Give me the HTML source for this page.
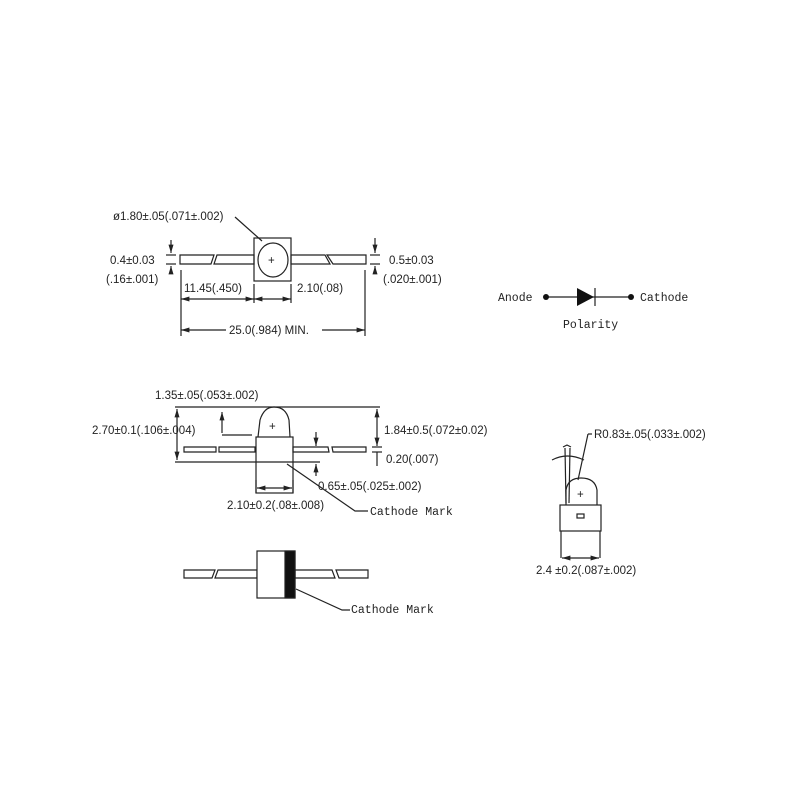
<!DOCTYPE html>
<html><head><meta charset="utf-8"><style>
html,body{margin:0;padding:0;background:#fff;}
svg{display:block}
text{font-family:"Liberation Sans",sans-serif;font-size:11.5px;fill:#222}
.m{font-family:"Liberation Mono",monospace;font-size:11.5px}
</style></head><body>
<svg width="800" height="800" viewBox="0 0 800 800" xmlns="http://www.w3.org/2000/svg">
<defs><marker id="a" viewBox="0 0 10 10" refX="10" refY="5" markerWidth="7" markerHeight="7" orient="auto-start-reverse"><path d="M0,2 L10,5 L0,8 z" fill="#222"/></marker></defs>
<g stroke="#222" stroke-width="1.2" fill="none">
<!-- TOP VIEW -->
<rect x="254" y="238" width="37" height="43" fill="#fff"/>
<ellipse cx="273" cy="260" rx="15" ry="17"/>
<path d="M180,255 L214,255 L211,264 L180,264 Z"/>
<path d="M217,255 L254,255 L254,264 L214,264 Z"/>
<path d="M291,255 L325,255 L330,264 L291,264 Z"/>
<path d="M327,255 L366,255 L366,264 L333,264 Z"/>
<line x1="235" y1="217" x2="262" y2="241"/>
<line x1="171" y1="240" x2="171" y2="253" marker-end="url(#a)"/>
<line x1="171" y1="274" x2="171" y2="266" marker-end="url(#a)"/>
<line x1="166" y1="255" x2="176" y2="255"/><line x1="166" y1="264" x2="176" y2="264"/>
<line x1="375" y1="238" x2="375" y2="253" marker-end="url(#a)"/>
<line x1="375" y1="274" x2="375" y2="266" marker-end="url(#a)"/>
<line x1="370" y1="255" x2="380" y2="255"/><line x1="370" y1="264" x2="380" y2="264"/>
<line x1="181" y1="270" x2="181" y2="336"/>
<line x1="365" y1="270" x2="365" y2="336"/>
<line x1="254" y1="284" x2="254" y2="303"/>
<line x1="291" y1="284" x2="291" y2="303"/>
<line x1="181" y1="299" x2="254" y2="299" marker-start="url(#a)" marker-end="url(#a)"/>
<line x1="254" y1="299" x2="291" y2="299" marker-start="url(#a)" marker-end="url(#a)"/>
<line x1="181" y1="330" x2="226" y2="330" marker-start="url(#a)"/>
<line x1="322" y1="330" x2="365" y2="330" marker-end="url(#a)"/>
<!-- DIODE SYMBOL -->
<line x1="546" y1="297" x2="631" y2="297"/>
<line x1="595" y1="288" x2="595" y2="306"/>
<!-- SIDE VIEW -->
<path d="M258,437 L260,420 Q264,407 274,407 Q286,407 289,420 L290,437" fill="#fff"/>
<rect x="256" y="437" width="37" height="56" fill="#fff"/>
<line x1="256" y1="462" x2="293" y2="462"/>
<path d="M184,447 L216,447 L216,452 L184,452 Z"/>
<path d="M219,447 L255,447 L255,452 L219,452 Z"/>
<path d="M293,447 L328,447 L329,452 L293,452 Z"/>
<path d="M332,447 L366,447 L366,452 L333,452 Z"/>
<line x1="175" y1="407" x2="380" y2="407"/>
<line x1="175" y1="462" x2="256" y2="462"/>
<line x1="293" y1="462" x2="320" y2="462"/>
<line x1="177" y1="409" x2="177" y2="460" marker-start="url(#a)" marker-end="url(#a)"/>
<line x1="222" y1="412" x2="222" y2="433" marker-start="url(#a)"/>
<line x1="222" y1="435" x2="252" y2="435"/>
<line x1="377" y1="409" x2="377" y2="446" marker-start="url(#a)" marker-end="url(#a)"/>
<line x1="372" y1="447" x2="382" y2="447"/><line x1="372" y1="452" x2="382" y2="452"/>
<line x1="377" y1="452" x2="377" y2="466"/>
<line x1="316" y1="432" x2="316" y2="446" marker-end="url(#a)"/>
<line x1="316" y1="476" x2="316" y2="464" marker-end="url(#a)"/>
<line x1="256" y1="480" x2="256" y2="493"/><line x1="293" y1="480" x2="293" y2="493"/>
<line x1="257" y1="488" x2="292" y2="488" marker-start="url(#a)" marker-end="url(#a)"/>
<polyline points="287,464 355,511 368,511"/>
<!-- BOTTOM VIEW -->
<path d="M184,570 L215,570 L212,578 L184,578 Z"/>
<path d="M218,570 L257,570 L257,578 L215,578 Z"/>
<path d="M295,570 L332,570 L335,578 L295,578 Z"/>
<path d="M336,570 L368,570 L368,578 L339,578 Z"/>
<rect x="257" y="551" width="38" height="47" fill="#fff"/>
<rect x="285" y="551" width="10" height="47" fill="#111"/>
<polyline points="296,589 342,610 350,610"/>
<!-- RIGHT VIEW -->
<path d="M566,505 L566,490 Q568,478 581,478 Q595,478 597,490 L597,505" fill="#fff"/>
<rect x="560" y="505" width="41" height="26" fill="#fff"/>
<line x1="561" y1="531" x2="561" y2="558"/><line x1="600" y1="531" x2="600" y2="558"/>
<rect x="577" y="514" width="7" height="4"/>
<line x1="562" y1="558" x2="599" y2="558" marker-start="url(#a)" marker-end="url(#a)"/>
<line x1="566" y1="503" x2="565" y2="448"/>
<line x1="569" y1="503" x2="570" y2="448"/>
<line x1="578" y1="480" x2="588" y2="434"/>
<line x1="588" y1="434" x2="592" y2="434"/>
<path d="M552,460 Q567,452 584,460"/>
<path d="M563,447 l4,-2 l4,2"/>
</g>
<polygon points="577,288 577,306 594,297" fill="#111"/>
<circle cx="546" cy="297" r="3" fill="#111"/>
<circle cx="631" cy="297" r="3" fill="#111"/>
<text x="268" y="264" font-size="11">+</text>
<text x="269" y="430" font-size="11">+</text>
<text x="577" y="498" font-size="11">+</text>
<text x="113" y="220">ø1.80±.05(.071±.002)</text>
<text x="110" y="264">0.4±0.03</text>
<text x="106" y="283">(.16±.001)</text>
<text x="389" y="264">0.5±0.03</text>
<text x="383" y="283">(.020±.001)</text>
<text x="184" y="292">11.45(.450)</text>
<text x="297" y="292">2.10(.08)</text>
<text x="229" y="334">25.0(.984)  MIN.</text>
<text class="m" x="498" y="301" font-size="13">Anode</text>
<text class="m" x="640" y="301" font-size="13">Cathode</text>
<text class="m" x="563" y="328" font-size="13">Polarity</text>
<text x="155" y="399">1.35±.05(.053±.002)</text>
<text x="92" y="434">2.70±0.1(.106±.004)</text>
<text x="384" y="434">1.84±0.5(.072±0.02)</text>
<text x="386" y="463">0.20(.007)</text>
<text x="318" y="490">0.65±.05(.025±.002)</text>
<text x="227" y="509">2.10±0.2(.08±.008)</text>
<text class="m" x="370" y="515">Cathode Mark</text>
<text class="m" x="351" y="613">Cathode Mark</text>
<text x="594" y="438">R0.83±.05(.033±.002)</text>
<text x="536" y="574">2.4 ±0.2(.087±.002)</text>
</svg>
</body></html>
